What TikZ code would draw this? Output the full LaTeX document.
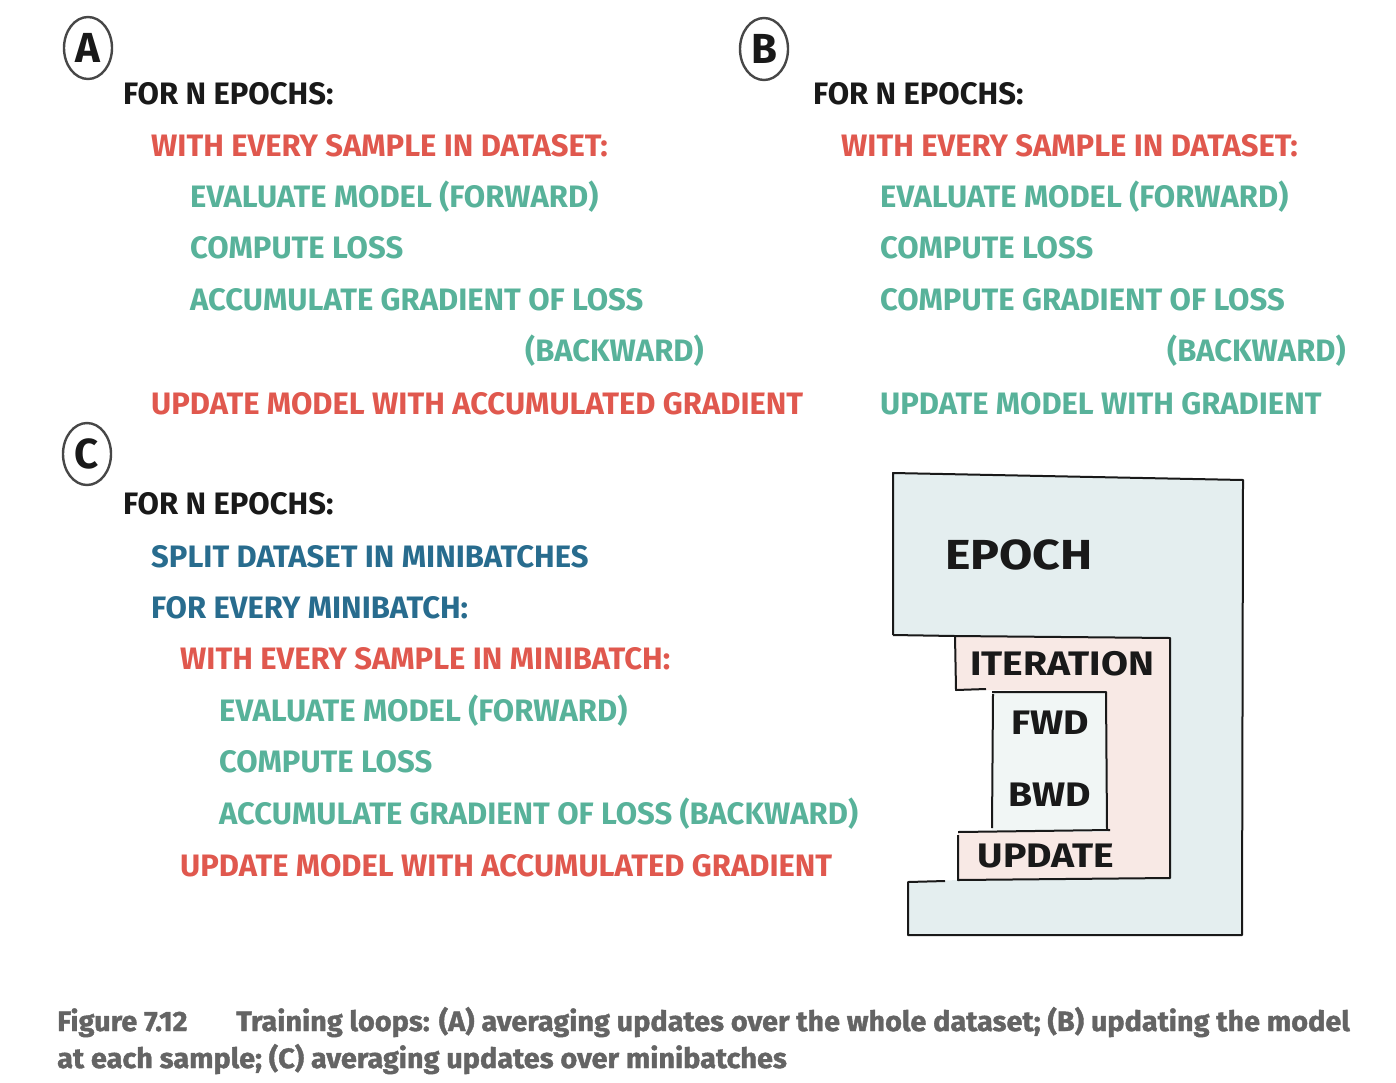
\documentclass[tikz,border=0pt]{standalone}
\usepackage{fontspec}
\setmainfont{Fira Sans}
\newfontfamily\handfont{Fira Sans}
\newfontfamily\boxfont[FakeStretch=1.15]{Fira Sans}
\newfontfamily\capfont[FakeStretch=1.03, FakeBold=1.4]{Fira Sans}
\usepackage{xcolor}
\usetikzlibrary{shapes.geometric}
\definecolor{loopred}{RGB}{224,88,78}
\definecolor{loopteal}{RGB}{88,178,154}
\definecolor{loopblue}{RGB}{40,108,142}
\definecolor{loopink}{RGB}{25,25,25}
\definecolor{capgray}{RGB}{100,100,100}
\definecolor{epochfill}{RGB}{228,238,239}
\definecolor{iterfill}{RGB}{248,233,229}
\definecolor{passfill}{RGB}{241,246,245}

\begin{document}
\begin{tikzpicture}[
  x=1pt, y=-1pt,
  codeline/.style={anchor=base west, inner sep=0pt,
    font=\handfont\bfseries\fontsize{31}{36}\selectfont},
  forline/.style={codeline, text=loopink},
  redline/.style={codeline, text=loopred},
  tealline/.style={codeline, text=loopteal},
  blueline/.style={codeline, text=loopblue},
  tag/.style={ellipse, draw=loopink!80, line width=2.4pt, inner sep=0pt,
    minimum width=48pt, minimum height=62pt, text=loopink,
    font=\handfont\bfseries\fontsize{42}{42}\selectfont},
  boxlabel/.style={inner sep=0pt, text=loopink,
    font=\boxfont\bfseries\fontsize{34}{34}\selectfont},
  edge/.style={draw=loopink, line width=2pt, line join=round},
  caption/.style={anchor=base west, inner sep=0pt, text=capgray,
    font=\capfont\bfseries\fontsize{28}{34}\selectfont}
]
  \useasboundingbox (0,0) rectangle (1396,1082);

  % --- Panel A ---
  \node[tag] (tagA) at (88,48) {A};
  \node[forline]  (aepochs) at (123,104) {FOR N EPOCHS:};
  \node[redline]  (asample) at (151,156) {WITH EVERY SAMPLE IN DATASET:};
  \node[tealline] (aeval)   at (190,207) {EVALUATE MODEL (FORWARD)};
  \node[tealline] (aloss)   at (190,258) {COMPUTE LOSS};
  \node[tealline] (agrad)   at (190,310) {ACCUMULATE GRADIENT OF LOSS};
  \node[tealline] (aback)   at (525,361) {(BACKWARD)};
  \node[redline]  (aupdate) at (151,414) {UPDATE MODEL WITH ACCUMULATED GRADIENT};

  % --- Panel B ---
  \node[tag] (tagB) at (764,49) {B};
  \node[forline]  (bepochs) at (813,104) {FOR N EPOCHS:};
  \node[redline]  (bsample) at (841,156) {WITH EVERY SAMPLE IN DATASET:};
  \node[tealline] (beval)   at (880,207) {EVALUATE MODEL (FORWARD)};
  \node[tealline] (bloss)   at (880,258) {COMPUTE LOSS};
  \node[tealline] (bgrad)   at (880,310) {COMPUTE GRADIENT OF LOSS};
  \node[tealline] (bback)   at (1167,361) {(BACKWARD)};
  \node[tealline] (bupdate) at (880,414) {UPDATE MODEL WITH GRADIENT};

  % --- Panel C ---
  \node[tag] (tagC) at (87,454) {C};
  \node[forline]  (cepochs) at (123,514) {FOR N EPOCHS:};
  \node[blueline] (csplit)  at (151,567) {SPLIT DATASET IN MINIBATCHES};
  \node[blueline] (cbatch)  at (151,618) {FOR EVERY MINIBATCH:};
  \node[redline]  (csample) at (180,669) {WITH EVERY SAMPLE IN MINIBATCH:};
  \node[tealline] (ceval)   at (219,721) {EVALUATE MODEL (FORWARD)};
  \node[tealline] (closs)   at (219,772) {COMPUTE LOSS};
  \node[tealline] (cgrad)   at (219,824) {ACCUMULATE GRADIENT OF LOSS (BACKWARD)};
  \node[redline]  (cupdate) at (180,876) {UPDATE MODEL WITH ACCUMULATED GRADIENT};

  % --- Epoch / iteration sketch ---
  \fill[epochfill] (893,473) -- (1243,480) -- (1242,935) -- (908,935) -- (908,882)
    -- (958,880) -- (1170,878) -- (1170,638) -- (955,636) -- (893,635) -- cycle;
  \fill[iterfill] (955,636) -- (1170,638) -- (1170,878) -- (958,880) -- (958,832)
    -- (1108,832) -- (1106,692) -- (987,690) -- (955,690) -- cycle;
  \fill[passfill] (992,692) rectangle (1106,830);

  \draw[edge] (893,635) -- (893,473) -- (1243,480) -- (1242,935) -- (908,935)
    -- (908,882) -- (945,881);
  \draw[edge] (893,635) -- (955,636) -- (1170,638) -- (1170,878) -- (958,880)
    -- (958,835);
  \draw[edge] (958,832) -- (1110,830);
  \draw[edge] (955,636) -- (956,690) -- (986,689);
  \draw[edge] (992,692) -- (1106,692) -- (1107,830);
  \draw[edge] (993,694) -- (992,828);

  \node[boxlabel, font=\boxfont\bfseries\fontsize{42}{42}\selectfont]
    (epoch) at (1019,555) {EPOCH};
  \node[boxlabel] (iter)   at (1062,664) {ITERATION};
  \node[boxlabel] (fwd)    at (1050,723) {FWD};
  \node[boxlabel] (bwd)    at (1050,795) {BWD};
  \node[boxlabel] (update) at (1046,856) {UPDATE};

  % --- Caption ---
  \node[caption] (capnum)  at (57,1031) {Figure 7.12};
  \node[caption] (capone)  at (236,1031) {Training loops: (A) averaging updates over the whole dataset; (B) updating the model};
  \node[caption] (captwo)  at (57,1068) {at each sample; (C) averaging updates over minibatches};
\end{tikzpicture}
\end{document}
